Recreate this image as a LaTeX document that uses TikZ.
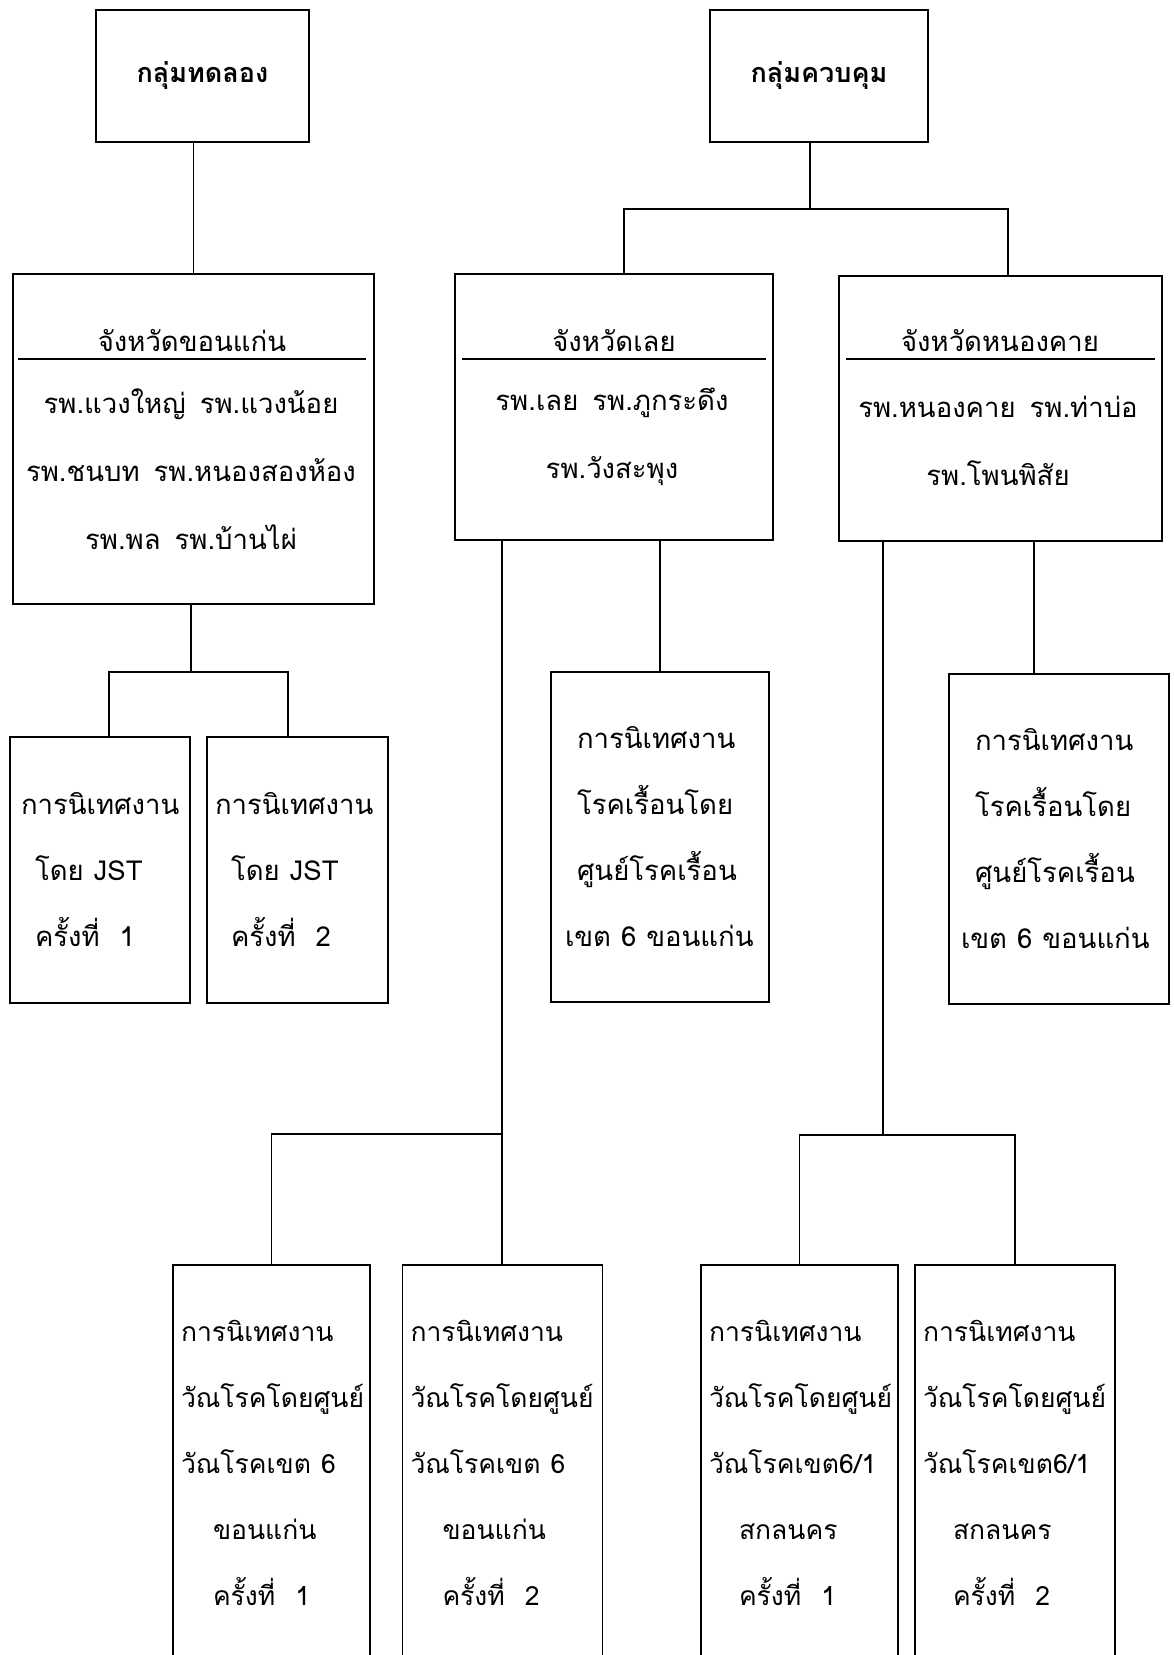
\documentclass[tikz,border=0pt]{standalone}
\usepackage{fontspec}
\newfontfamily\thaifont[Script=Thai]{Loma}
\usetikzlibrary{positioning}
\newcommand\thgap[1][14pt]{\hspace{#1}}

\tikzset{
  frame/.style={draw, rectangle, inner sep=0pt},
  thtext/.style={font=\thaifont\fontsize{27.5}{68}\selectfont, align=center, inner sep=0pt},
  headtext/.style={font=\thaifont\bfseries\fontsize{27}{34}\selectfont, align=center},
  visit/.style={thtext, font=\thaifont\fontsize{27.5}{66}\selectfont, align=left, anchor=west},
  tbvisit/.style={visit, font=\thaifont\fontsize{26.5}{66}\selectfont}
}

\begin{document}
\begin{tikzpicture}[x=1pt, y=-1pt, line width=1.5pt]
  \useasboundingbox (0,0) rectangle (1174,1655);
  \clip (0,0) rectangle (1174,1655);

  % groups
  \node[frame, headtext, minimum width=213, minimum height=132] (exp) at (202.5,76) {กลุ่มทดลอง};
  \node[frame, headtext, minimum width=218, minimum height=132] (ctl) at (819,76) {กลุ่มควบคุม};

  % provinces
  \node[frame, minimum width=361, minimum height=330] (kk) at (193.5,439) {};
  \node[thtext, anchor=base] (kkT) at (192,351) {จังหวัดขอนแก่น};
  \node[thtext] (kkL) at (191,469) {รพ.แวงใหญ่\thgap{}รพ.แวงน้อย\\รพ.ชนบท\thgap{}รพ.หนองสองห้อง\\รพ.พล\thgap{}รพ.บ้านไผ่};
  \draw ([xshift=6pt, yshift=-8pt]kk.west |- kkT.base) -- ([xshift=-9pt, yshift=-8pt]kk.east |- kkT.base);

  \node[frame, minimum width=318, minimum height=266] (loei) at (614,407) {};
  \node[thtext, anchor=base] (loeiT) at (614,351) {จังหวัดเลย};
  \node[thtext] (loeiL) at (612,437) {รพ.เลย\thgap{}รพ.ภูกระดึง\\รพ.วังสะพุง};
  \draw ([xshift=8pt, yshift=-8pt]loei.west |- loeiT.base) -- ([xshift=-8pt, yshift=-8pt]loei.east |- loeiT.base);

  \node[frame, minimum width=323, minimum height=265] (nk) at (1000.5,408.5) {};
  \node[thtext, anchor=base] (nkT) at (1000,351) {จังหวัดหนองคาย};
  \node[thtext] (nkL) at (998,441) {รพ.หนองคาย\thgap{}รพ.ท่าบ่อ\\รพ.โพนพิสัย};
  \draw ([xshift=8pt, yshift=-8pt]nk.west |- nkT.base) -- ([xshift=-8pt, yshift=-8pt]nk.east |- nkT.base);

  % supervision boxes
  \node[frame, minimum width=180, minimum height=266] (jst1) at (100,870) {};
  \node[frame, minimum width=181, minimum height=266] (jst2) at (297.5,870) {};
  \node[visit] (jst1t) at ([xshift=11pt]jst1.west) {การนิเทศงาน\\\hspace{14pt}โดย\thgap[10pt]{}JST\\\hspace{14pt}ครั้งที่\thgap[20pt]{}1};
  \node[visit] (jst2t) at ([xshift=8pt]jst2.west) {การนิเทศงาน\\\hspace{16pt}โดย\thgap[10pt]{}JST\\\hspace{16pt}ครั้งที่\thgap[20pt]{}2};

  \node[frame, minimum width=218, minimum height=330] (lep1) at (660,837) {};
  \node[frame, minimum width=220, minimum height=330] (lep2) at (1059,839) {};
  \node[visit] (lep1t) at ([xshift=14pt]lep1.west) {\hspace{12pt}การนิเทศงาน\\\hspace{12pt}โรคเรื้อนโดย\\\hspace{12pt}ศูนย์โรคเรื้อน\\เขต\thgap[10pt]{}6\thgap[10pt]{}ขอนแก่น};
  \node[visit] (lep2t) at ([xshift=12pt]lep2.west) {\hspace{14pt}การนิเทศงาน\\\hspace{14pt}โรคเรื้อนโดย\\\hspace{14pt}ศูนย์โรคเรื้อน\\เขต\thgap[10pt]{}6\thgap[10pt]{}ขอนแก่น};

  \node[frame, minimum width=197, minimum height=430] (tbA) at (271.5,1480) {};
  \node[frame, minimum width=200, minimum height=430] (tbB) at (502.5,1480) {};
  \node[frame, minimum width=197, minimum height=430] (tbC) at (799.5,1480) {};
  \node[frame, minimum width=200, minimum height=430] (tbD) at (1015,1480) {};
  \node[tbvisit] (tbAt) at ([xshift=8pt]tbA.west |- 0,1463) {การนิเทศงาน\\วัณโรคโดยศูนย์\\วัณโรคเขต\thgap[10pt]{}6\\\hspace{32pt}ขอนแก่น\\\hspace{32pt}ครั้งที่\thgap[20pt]{}1};
  \node[tbvisit] (tbBt) at ([xshift=8pt]tbB.west |- 0,1463) {การนิเทศงาน\\วัณโรคโดยศูนย์\\วัณโรคเขต\thgap[10pt]{}6\\\hspace{32pt}ขอนแก่น\\\hspace{32pt}ครั้งที่\thgap[20pt]{}2};
  \node[tbvisit] (tbCt) at ([xshift=8pt]tbC.west |- 0,1463) {การนิเทศงาน\\วัณโรคโดยศูนย์\\วัณโรคเขต6/1\\\hspace{30pt}สกลนคร\\\hspace{30pt}ครั้งที่\thgap[20pt]{}1};
  \node[tbvisit] (tbDt) at ([xshift=8pt]tbD.west |- 0,1463) {การนิเทศงาน\\วัณโรคโดยศูนย์\\วัณโรคเขต6/1\\\hspace{30pt}สกลนคร\\\hspace{30pt}ครั้งที่\thgap[20pt]{}2};

  % connectors
  \draw (exp.south -| kk.north) -- (kk.north);

  \coordinate (ctlL) at (624,209);
  \coordinate (ctlR) at (1008,209);
  \draw (ctl.south -| 810,0) -- (810,209);
  \draw (loei.north -| ctlL) -- (ctlL) -- (ctlR) -- (nk.north -| ctlR);

  \coordinate (kkJ) at (191,672);
  \coordinate (kkJL) at (109,672);
  \coordinate (kkJR) at (288,672);
  \draw (kk.south -| kkJ) -- (kkJ);
  \draw (jst1.north -| kkJL) -- (kkJL) -- (kkJR) -- (jst2.north -| kkJR);

  \draw (loei.south -| lep1.north) -- (lep1.north);
  \coordinate (nkF) at (1034,0);
  \draw (nk.south -| nkF) -- (lep2.north -| nkF);

  \coordinate (loeiJ) at (502,1134);
  \draw (loei.south -| loeiJ) -- (loeiJ |- tbB.north);
  \draw (tbA.north) |- (loeiJ);

  \coordinate (nkJ) at (883,1135);
  \draw (nk.south -| nkJ) -- (nkJ);
  \draw (tbC.north) |- (nkJ) -| (tbD.north);
\end{tikzpicture}
\end{document}
